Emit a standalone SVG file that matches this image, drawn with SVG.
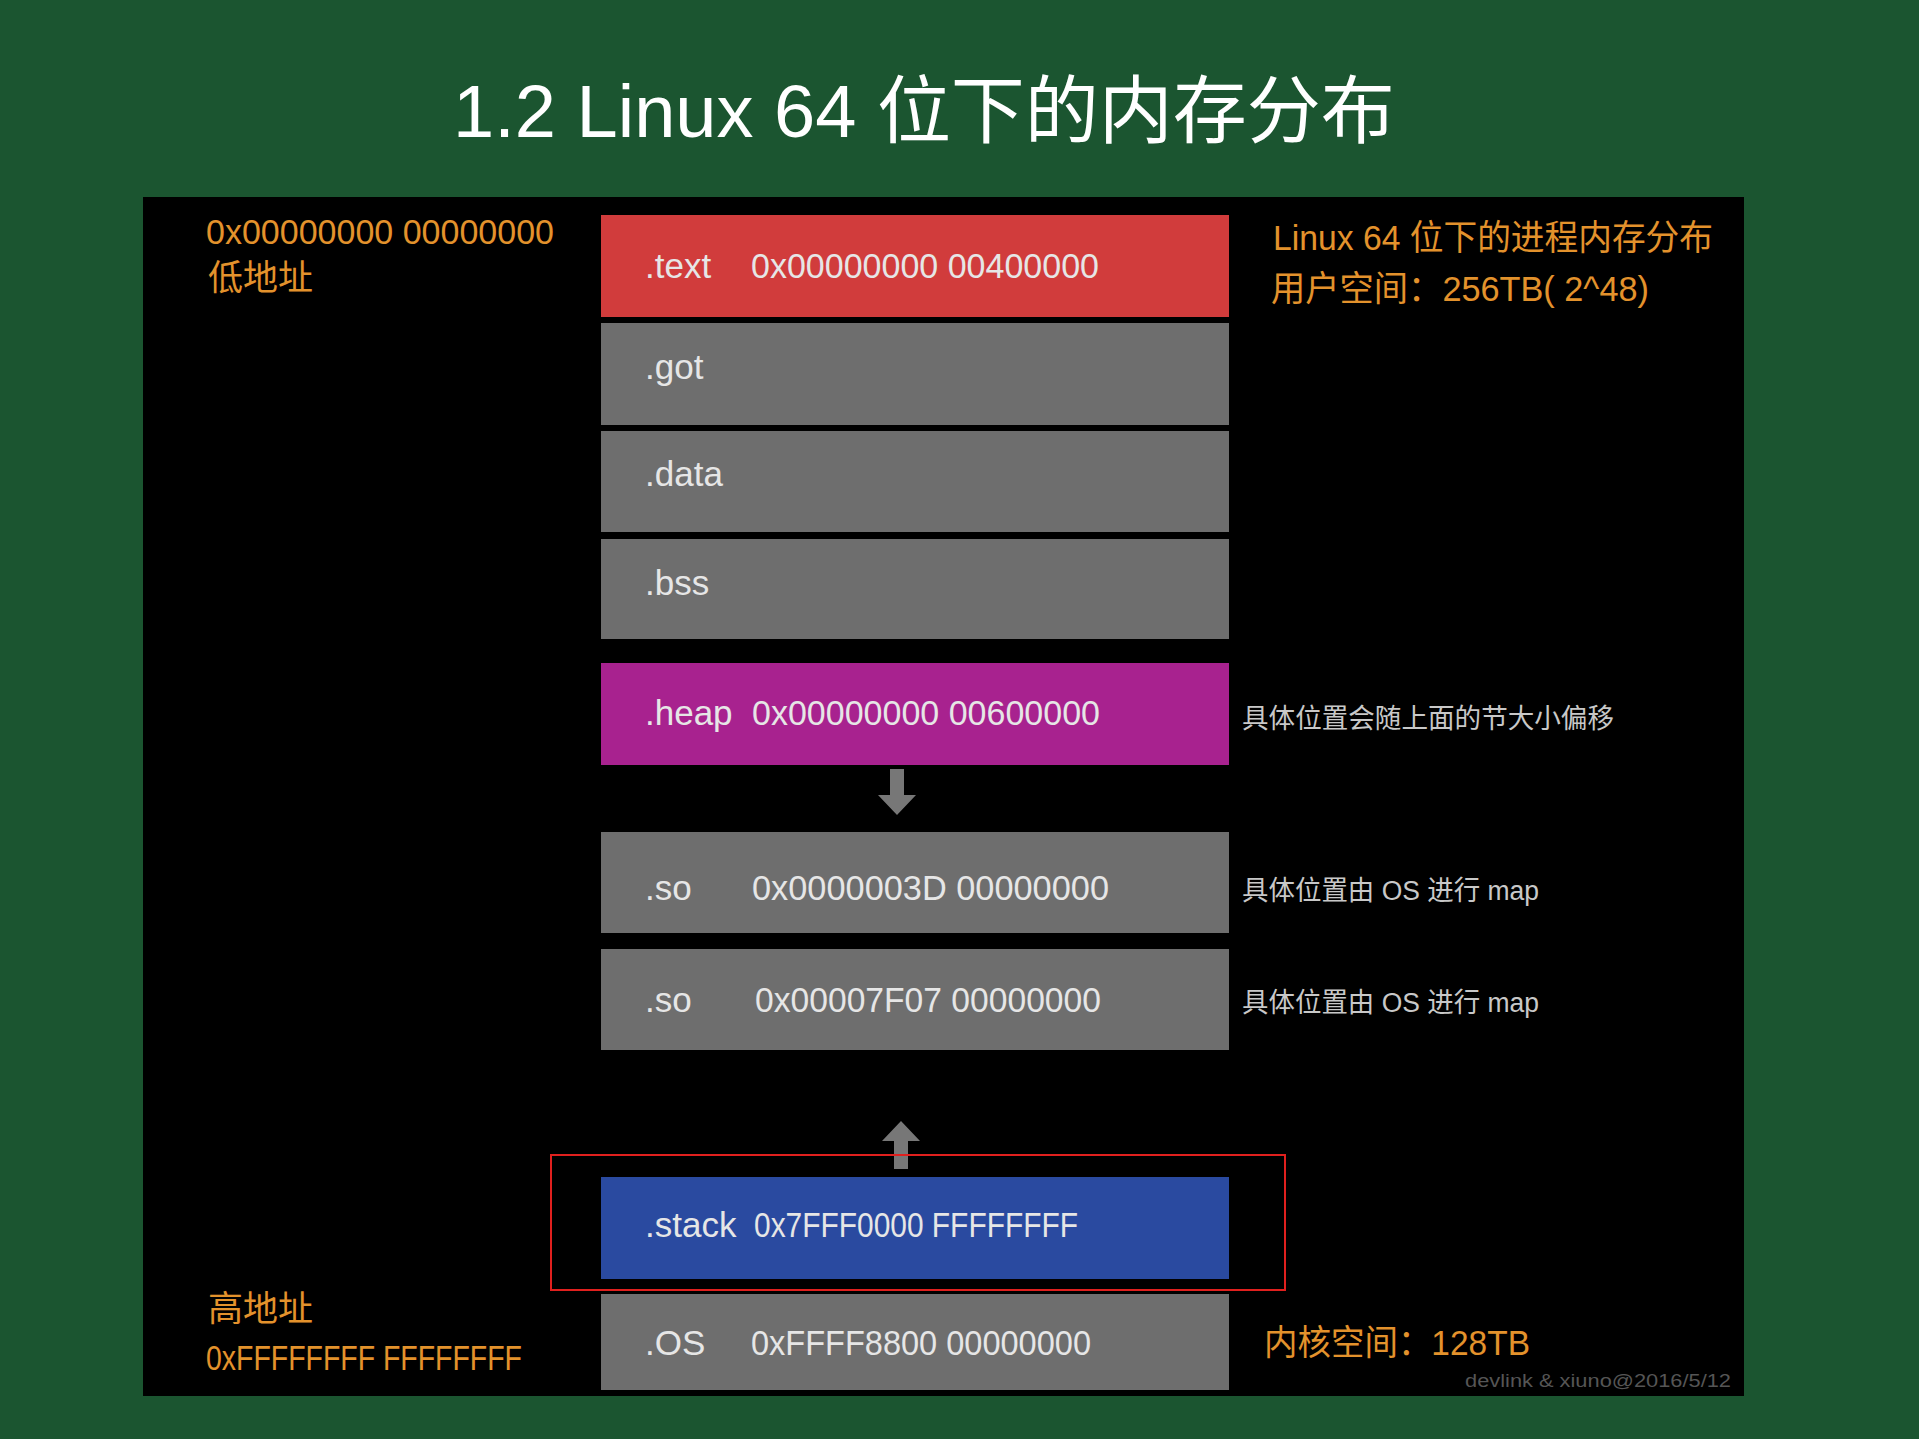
<svg xmlns="http://www.w3.org/2000/svg" width="1919" height="1439" viewBox="0 0 1919 1439">
<style>
.t{font-family:"Liberation Sans","Noto Sans CJK SC",sans-serif}
.w{fill:#e6e6e6;font-size:35px}
.o{fill:#e3922c;font-size:35px}
.n{fill:#c8c8c8;font-size:27px}
.g{fill:#6e6e6e}
</style>
<rect width="1919" height="1439" fill="#1b5530"/>
<text class="t" x="924" y="137" font-size="74" fill="#fff" text-anchor="middle">1.2 Linux 64 位下的内存分布</text>
<rect x="143" y="197" width="1601" height="1199" fill="#000"/>
<g id="labels">
<text class="t o" x="206" y="244" textLength="348" lengthAdjust="spacingAndGlyphs">0x00000000 00000000</text>
<text class="t o" x="208" y="290">低地址</text>
<text class="t o" x="1273" y="250" textLength="440" lengthAdjust="spacingAndGlyphs">Linux 64 位下的进程内存分布</text>
<text class="t o" x="1271" y="301" textLength="378" lengthAdjust="spacingAndGlyphs">用户空间：256TB( 2^48)</text>
<text class="t o" x="208" y="1321">高地址</text>
<text class="t o" x="206" y="1370" textLength="316" lengthAdjust="spacingAndGlyphs">0xFFFFFFFF FFFFFFFF</text>
<text class="t o" x="1264" y="1355" textLength="266" lengthAdjust="spacingAndGlyphs">内核空间：128TB</text>
<text class="t n" x="1242" y="728" textLength="372" lengthAdjust="spacingAndGlyphs">具体位置会随上面的节大小偏移</text>
<text class="t n" x="1242" y="900" textLength="297" lengthAdjust="spacingAndGlyphs">具体位置由 OS 进行 map</text>
<text class="t n" x="1242" y="1012" textLength="297" lengthAdjust="spacingAndGlyphs">具体位置由 OS 进行 map</text>
<text class="t" x="1465" y="1387" font-size="18" fill="#555" textLength="266" lengthAdjust="spacingAndGlyphs">devlink &amp; xiuno@2016/5/12</text>
</g>
<g id="text"><rect x="601" y="215" width="628" height="102" fill="#d13c3c"/><text class="t w" x="645" y="278">.text</text><text class="t w" x="751" y="278" textLength="348" lengthAdjust="spacingAndGlyphs">0x00000000 00400000</text></g>
<g id="got"><rect class="g" x="601" y="323" width="628" height="102"/><text class="t w" x="645" y="379">.got</text></g>
<g id="data"><rect class="g" x="601" y="431" width="628" height="101"/><text class="t w" x="645" y="486">.data</text></g>
<g id="bss"><rect class="g" x="601" y="539" width="628" height="100"/><text class="t w" x="645" y="595">.bss</text></g>
<g id="heap"><rect x="601" y="663" width="628" height="102" fill="#a8228f"/><text class="t w" x="645" y="725">.heap</text><text class="t w" x="752" y="725" textLength="348" lengthAdjust="spacingAndGlyphs">0x00000000 00600000</text></g>
<g id="so1"><rect class="g" x="601" y="832" width="628" height="101"/><text class="t w" x="645" y="900">.so</text><text class="t w" x="752" y="900" textLength="357" lengthAdjust="spacingAndGlyphs">0x0000003D 00000000</text></g>
<g id="so2"><rect class="g" x="601" y="949" width="628" height="101"/><text class="t w" x="645" y="1012">.so</text><text class="t w" x="755" y="1012" textLength="346" lengthAdjust="spacingAndGlyphs">0x00007F07 00000000</text></g>
<g id="stack"><rect x="601" y="1177" width="628" height="102" fill="#2a4aa0"/><text class="t w" x="645" y="1237">.stack</text><text class="t w" x="754" y="1237" textLength="324" lengthAdjust="spacingAndGlyphs">0x7FFF0000 FFFFFFFF</text></g>
<g id="os"><rect class="g" x="601" y="1294" width="628" height="96"/><text class="t w" x="645" y="1355">.OS</text><text class="t w" x="751" y="1355" textLength="340" lengthAdjust="spacingAndGlyphs">0xFFFF8800 00000000</text></g>
<g id="connectors">
<polygon points="890,769 904,769 904,795 916,795 897,815 878,795 890,795" fill="#777"/>
<polygon points="894,1169 908,1169 908,1141 920,1141 901,1121 882,1141 894,1141" fill="#777"/>
<rect x="551" y="1155" width="734" height="135" fill="none" stroke="#e0201e" stroke-width="2"/>
</g>
</svg>
